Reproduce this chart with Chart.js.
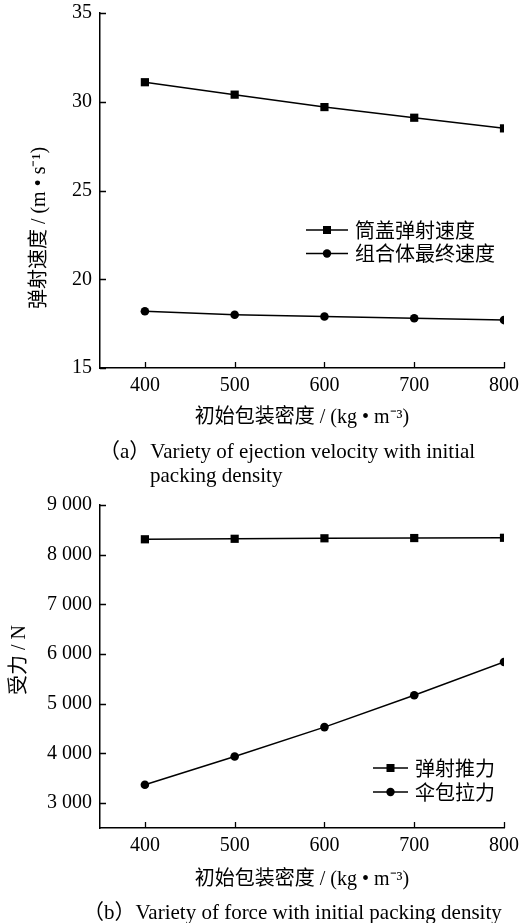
<!DOCTYPE html>
<html>
<head>
<meta charset="utf-8">
<script src="https://cdn.jsdelivr.net/npm/chart.js@4"></script>
<style>
  body { margin: 0; background: #fff; }
  #page { position: relative; width: 527px; height: 923px; overflow: hidden; }
  canvas { position: absolute; left: 0; }
  .caption {
    position: absolute;
    font-family: 'Liberation Serif', 'Noto Sans CJK SC', serif;
    font-size: 21px;
    line-height: 24px;
    color: #000;
    white-space: nowrap;
  }
</style>
</head>
<body>
<div id="page">
  <canvas id="chartA" width="527" height="440" style="top:0"></canvas>
  <div class="caption" style="left:99px; top:439px;">（a）Variety of ejection velocity with initial</div>
  <div class="caption" style="left:150px; top:463px;">packing density</div>
  <canvas id="chartB" width="527" height="415" style="top:485px"></canvas>
  <div class="caption" style="left:83px; top:900px;">（b）Variety of force with initial packing density</div>
</div>
<script>
// initial packing density, kg/m^3
const density = [400, 500, 600, 700, 800];
const xTicks = [400, 500, 600, 700, 800];

// (a) ejection velocity, m/s
const coverVelocity = [31.1, 30.4, 29.7, 29.1, 28.5];
const finalVelocity = [18.2, 18.0, 17.9, 17.8, 17.7];
const velTicks = [15, 20, 25, 30, 35];

// (b) force, N
const ejectThrust = [8310, 8320, 8330, 8335, 8340];
const packPull = [3370, 3940, 4530, 5170, 5840];
const forceTicks = [3000, 4000, 5000, 6000, 7000, 8000, 9000];

const serif = "'Liberation Serif', 'Noto Sans CJK SC', serif";
const cjk = "'Noto Sans CJK SC', 'Liberation Sans', sans-serif";

function toPoints(values) {
  return density.map((d, i) => ({ x: d, y: values[i] }));
}

function spaced(v) {
  return String(v).replace(/\B(?=(\d{3})+(?!\d))/g, ' ');
}

// tick marks pointing into the plot, y title, and the legend inside the plot
const extras = {
  id: 'extras',
  afterDraw(chart, args, opts) {
    const ctx = chart.ctx;
    const area = chart.chartArea;
    const xs = chart.scales.x, ys = chart.scales.y;
    ctx.save();
    ctx.strokeStyle = '#000';
    ctx.lineWidth = 1.3;
    ctx.beginPath();
    xs.ticks.forEach(t => {
      const px = Math.round(xs.getPixelForValue(t.value)) + 0.5;
      ctx.moveTo(px, area.bottom);
      ctx.lineTo(px, area.bottom - 6);
    });
    ys.ticks.forEach(t => {
      const py = Math.round(ys.getPixelForValue(t.value)) + 0.5;
      ctx.moveTo(area.left, py);
      ctx.lineTo(area.left + 6, py);
    });
    ctx.stroke();

    // y axis title
    ctx.save();
    ctx.translate(opts.yTitleX, opts.yTitleY);
    ctx.rotate(-Math.PI / 2);
    ctx.font = '20px ' + serif;
    ctx.fillStyle = '#000';
    ctx.textAlign = 'center';
    ctx.textBaseline = 'middle';
    ctx.fillText(opts.yTitle, 0, 0);
    ctx.restore();

    // legend
    chart.data.datasets.forEach((ds, i) => {
      const y = opts.legendY + i * opts.legendGap;
      ctx.lineWidth = 1.5;
      ctx.beginPath();
      ctx.moveTo(opts.legendX, y);
      ctx.lineTo(opts.legendX + opts.legendLen, y);
      ctx.stroke();
      const mx = opts.legendX + opts.legendLen / 2;
      ctx.fillStyle = '#000';
      if (ds.pointStyle === 'rect') {
        ctx.fillRect(mx - 4, y - 4, 8, 8);
      } else {
        ctx.beginPath();
        ctx.arc(mx, y, 4.2, 0, Math.PI * 2);
        ctx.fill();
      }
      ctx.font = '20px ' + cjk;
      ctx.textAlign = 'left';
      ctx.textBaseline = 'middle';
      ctx.fillText(ds.label, opts.legendX + opts.legendLen + 7, y);
    });
    ctx.restore();
  }
};

function makeChart(id, cfg) {
  const series = (label, values, style) => ({
    label: label,
    data: toPoints(values),
    borderColor: '#000',
    backgroundColor: '#000',
    borderWidth: 1.5,
    pointStyle: style,
    pointRadius: style === 'rect' ? 5.8 : 4.3,
    pointBorderWidth: 0,
    tension: 0
  });

  return new Chart(document.getElementById(id), {
    type: 'line',
    data: {
      datasets: [
        series(cfg.labels[0], cfg.values[0], 'rect'),
        series(cfg.labels[1], cfg.values[1], 'circle')
      ]
    },
    options: {
      responsive: false,
      animation: false,
      layout: { padding: { top: cfg.padTop, right: 23, left: 0, bottom: 0 } },
      plugins: {
        legend: { display: false },
        tooltip: { enabled: false },
        extras: cfg.extras
      },
      scales: {
        x: {
          type: 'linear',
          min: 350,
          max: 800,
          afterBuildTicks: s => { s.ticks = xTicks.map(v => ({ value: v })); },
          afterFit: s => { s.height = 72; },
          grid: { display: false, drawTicks: false },
          border: { display: true, color: '#000', width: 1.5 },
          ticks: {
            color: '#000',
            padding: 6,
            maxRotation: 0,
            font: { family: serif, size: 20 }
          },
          title: {
            display: true,
            text: '初始包装密度 / (kg • m⁻³)',
            color: '#000',
            font: { family: serif, size: 20 },
            padding: { top: 0, bottom: cfg.xTitlePad }
          }
        },
        y: {
          min: cfg.yMin,
          max: cfg.yMax,
          afterBuildTicks: s => { s.ticks = cfg.yTicks.map(v => ({ value: v })); },
          afterFit: s => { s.width = 100; s.paddingTop = 0; s.paddingBottom = 0; },
          grid: { display: false, drawTicks: false },
          border: { display: true, color: '#000', width: 1.5 },
          ticks: {
            color: '#000',
            padding: 8,
            font: { family: serif, size: 20 },
            callback: v => spaced(v)
          }
        }
      }
    },
    plugins: [extras]
  });
}

makeChart('chartA', {
  labels: ['筒盖弹射速度', '组合体最终速度'],
  values: [coverVelocity, finalVelocity],
  yMin: 15, yMax: 35, yTicks: velTicks,
  padTop: 13,
  xTitlePad: 10,
  extras: {
    yTitle: '弹射速度 / (m • s⁻¹)', yTitleX: 40, yTitleY: 228,
    legendX: 306, legendLen: 42, legendY: 230, legendGap: 23.5
  }
});

makeChart('chartB', {
  labels: ['弹射推力', '伞包拉力'],
  values: [ejectThrust, packPull],
  yMin: 2500, yMax: 9000, yTicks: forceTicks,
  padTop: 20,
  xTitlePad: 8,
  extras: {
    yTitle: '受力 / N', yTitleX: 20, yTitleY: 175,
    legendX: 373, legendLen: 35, legendY: 283, legendGap: 24
  }
});
</script>
</body>
</html>
